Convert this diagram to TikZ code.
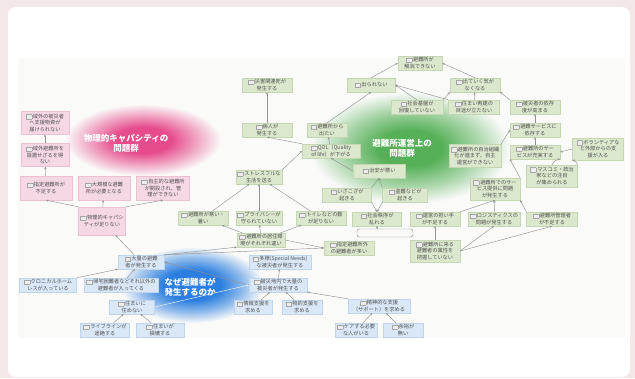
\documentclass[tikz,border=0pt]{standalone}
\usepackage{fontspec}
\newfontfamily\cjk{Noto Sans CJK JP}
\usetikzlibrary{arrows.meta,calc}
\definecolor{bgout}{HTML}{F3E8E8}
\definecolor{imgbg}{HTML}{FAFAF9}
\definecolor{pinkc}{HTML}{E64B8B}
\definecolor{greenc}{HTML}{56B058}
\definecolor{bluec}{HTML}{2C7FE0}
\definecolor{gfill}{HTML}{DCE8CE}
\definecolor{gdraw}{HTML}{C5D6B3}
\definecolor{bfill}{HTML}{D9E7F6}
\definecolor{bdraw}{HTML}{C0D4EC}
\definecolor{pfill}{HTML}{F6D8E4}
\definecolor{pdraw}{HTML}{ECC0D2}
\definecolor{txt}{HTML}{505050}
\definecolor{edc}{HTML}{939393}
\pgfdeclareradialshading{pinkglow}{\pgfpoint{0bp}{0bp}}{color(0bp)=(pinkc); color(9bp)=(pinkc); color(17bp)=(pinkc!50!imgbg); color(25bp)=(imgbg); color(50bp)=(imgbg)}
\pgfdeclareradialshading{greenglow}{\pgfpoint{0bp}{0bp}}{color(0bp)=(greenc); color(8bp)=(greenc); color(17bp)=(greenc!50!imgbg); color(25bp)=(imgbg); color(50bp)=(imgbg)}
\pgfdeclareradialshading{blueglow}{\pgfpoint{0bp}{0bp}}{color(0bp)=(bluec); color(10bp)=(bluec); color(18bp)=(bluec!50!imgbg); color(25bp)=(imgbg); color(50bp)=(imgbg)}
\newcommand\nbx{{\fboxsep=0pt\fboxrule=0.3pt\fcolorbox{gray!70}{gray!15}{\rule{0pt}{4pt}\rule{5.5pt}{0pt}}}\hspace{0.8pt}}
\begin{document}
\begin{tikzpicture}[x=1pt,y=-1pt,
  nd/.style={font=\cjk\fontsize{5.2}{6.2}\selectfont, text=txt, align=center, inner sep=1.5pt, minimum width=48pt, minimum height=14pt, line width=0.3pt},
  gn/.style={nd, fill=gfill, draw=gdraw},
  bn/.style={nd, fill=bfill, draw=bdraw},
  pn/.style={nd, fill=pfill, draw=pdraw},
  ed/.style={draw=edc, line width=0.45pt, -{Stealth[length=2.4pt,width=2.2pt]}},
  lbl/.style={font=\cjk\bfseries\fontsize{8.5}{10}\selectfont, text=white, align=center}]
\useasboundingbox (0,0) rectangle (635,378);
\fill[bgout] (0,0) rectangle (635,378);
\fill[white, rounded corners=8pt] (8,7) rectangle (630,377);
\fill[imgbg] (18,58) rectangle (625,338);
\shade[shading=pinkglow] (143,140) ellipse [x radius=78pt, y radius=36pt];
\shade[shading=greenglow] (410,148) ellipse [x radius=100pt, y radius=56pt];
\shade[shading=blueglow] (192,285) ellipse [x radius=72pt, y radius=38pt];
% pink
\node[pn, minimum height=23pt] (n44) at (45,123) {\nbx 域外の被災者\\へ支援物資が\\届けられない};
\node[pn, minimum height=23pt] (n45) at (45,155) {\nbx 域外避難所を\\設置せざるを得\\ない};
\node[pn, minimum width=52pt, minimum height=24pt] (n46) at (46,188) {\nbx 指定避難所が\\不足する};
\node[pn, minimum width=52pt, minimum height=24pt] (n47) at (104,188) {\nbx 大規模な避難\\所が必要となる};
\node[pn, minimum width=53pt, minimum height=24pt] (n48) at (163,188) {\nbx 自主的な避難所\\が開設され、管\\理ができない};
\node[pn, minimum width=47pt, minimum height=28pt] (n49) at (102,221) {\nbx 物理的キャパシ\\ティが足りない};
% blue
\node[bn, minimum width=46pt] (n31) at (141,262) {\nbx 大量の避難\\者が発生する};
\node[bn, minimum width=62pt] (n32) at (280,262) {\nbx 多様(Special Needs)\\な被災者が発生する};
\node[bn, minimum width=58pt] (n33) at (278,285) {\nbx 被災地内で大量の\\被災者が発生する};
\node[bn, minimum width=38pt] (n34) at (253,307) {\nbx 情報支援を\\求める};
\node[bn, minimum width=40pt] (n35) at (302,307) {\nbx 物的支援を\\求める};
\node[bn, minimum width=62pt] (n36) at (379,306) {\nbx 精神的な支援\\（サポート）を求める};
\node[bn, minimum width=42pt] (n37) at (356,330) {\nbx ケアする必要\\な人がいる};
\node[bn, minimum width=40pt] (n38) at (403,330) {\nbx 余裕が\\無い};
\node[bn, minimum width=57pt] (n39) at (48,285) {\nbx クロニカルホーム\\レスが入っている};
\node[bn, minimum width=74pt] (n40) at (121,285) {\nbx 帰宅困難者などそれ以外の\\避難者が入ってくる};
\node[bn, minimum width=45pt] (n41) at (132,307) {\nbx 住まいに\\住めない};
\node[bn, minimum width=49pt] (n42) at (105,330) {\nbx ライフラインが\\途絶する};
\node[bn, minimum width=48pt] (n43) at (160,330) {\nbx 住まいが\\損壊する};
% green
\node[gn, minimum width=44pt] (n1) at (420,63) {\nbx 避難所が\\解消できない};
\node[gn, minimum width=48pt] (n2) at (371,85) {\nbx 出られない};
\node[gn, minimum width=50pt] (n3) at (475,85) {\nbx 出ていく気が\\なくなる};
\node[gn, minimum width=52pt] (n4) at (417,107) {\nbx 社会基盤が\\回復していない};
\node[gn, minimum width=51pt] (n5) at (474,107) {\nbx 住まい再建の\\目途が立たない};
\node[gn, minimum width=50pt] (n6) at (535,107) {\nbx 被災者の依存\\度が高まる};
\node[gn, minimum width=50pt] (n7) at (535,130) {\nbx 避難サービスに\\依存する};
\node[gn, minimum width=50pt] (n8) at (535,152) {\nbx 避難所のサー\\ビスが充実する};
\node[gn, minimum width=51pt, minimum height=22pt] (n9) at (598,149) {\nbx ボランティアな\\ど外部からの支\\援が入る};
\node[gn, minimum width=50pt, minimum height=23pt] (n10) at (475,156) {\nbx 避難所の自治組織\\化が進まず、自主\\運営ができない};
\node[gn, minimum width=51pt, minimum height=22pt] (n11) at (552,176) {\nbx マスコミ・政治\\家などの注目\\が集められる};
\node[gn, minimum width=50pt, minimum height=22pt] (n12) at (495,189) {\nbx 避難所でのサー\\ビス提供に問題\\が発生する};
\node[gn, minimum width=52pt] (n13) at (494,219) {\nbx ロジスティクスの\\問題が発生する};
\node[gn, minimum width=51pt] (n14) at (552,219) {\nbx 避難所管理者\\が不足する};
\node[gn, minimum width=50pt] (n15) at (435,219) {\nbx 運営の担い手\\が不足する};
\node[gn, minimum width=50pt, minimum height=22pt] (n16) at (435,251) {\nbx 避難所に来る\\避難者の属性を\\把握していない};
\node[gn, minimum width=50pt] (n17) at (349,248) {\nbx 指定避難所外\\の避難者が多い};
\node[gn, minimum width=49pt] (n18) at (377,219) {\nbx 社会秩序が\\乱れる};
\node[gn, minimum width=49pt] (n19) at (347,195) {\nbx いざこざが\\起きる};
\node[gn, minimum width=45pt] (n20) at (405,195) {\nbx 盗難などが\\起きる};
\node[gn, minimum width=52pt] (n21) at (379,171) {\nbx 治安が悪い};
\node[gn, minimum width=58pt] (n22) at (331,151) {\nbx QOL（Quality\\of life）が下がる};
\node[gn, minimum width=40pt] (n23) at (327,130) {\nbx 避難所から\\出たい};
\node[gn, minimum width=50pt] (n24) at (267,130) {\nbx 病人が\\発生する};
\node[gn, minimum width=50pt] (n25) at (267,85) {\nbx 災害関連死が\\発生する};
\node[gn, minimum width=44pt] (n26) at (259,177) {\nbx ストレスフルな\\生活を送る};
\node[gn, minimum width=50pt] (n27) at (203,218) {\nbx 避難所が寒い・\\暑い};
\node[gn, minimum width=44pt] (n28) at (259,218) {\nbx プライバシーが\\守られていない};
\node[gn, minimum width=50pt] (n29) at (321,218) {\nbx トイレなどの数\\が足りない};
\node[gn, minimum width=48pt] (n30) at (261,240) {\nbx 避難所の居住環\\境がそれぞれ違い};
% edges pink
\draw[ed] (n45) -- (n44);
\draw[ed] (n46) -- (n45);
\draw[ed] (n49.north west) -- (n46.south);
\draw[ed] (n49) -- (n47);
\draw[ed] (n49.north east) -- (n48.south);
\draw[ed] (n31) -- (n49);
% edges blue
\draw[ed] (n39.north east) -- (n31.south west);
\draw[ed] (n40) -- (n31);
\draw[ed] (n33.west) -- (n31.east);
\draw[ed, draw=white!92!gray] (n41.east) -- (n33.west);
\draw[ed] (n33) -- (n32);
\draw[ed] (n34) -- (n33);
\draw[ed] (n35) -- (n33);
\draw[ed] (n36.north west) -- (n33.south east);
\draw[ed] (n37) -- (n36);
\draw[ed] (n38) -- (n36);
\draw[ed] (n42) -- (n41);
\draw[ed] (n43) -- (n41);
\draw[ed] (n31.north east) -- (n30.south west);
\draw[ed] (n31.north east) -- (n17.west);
\draw[ed] (n30.east) -- (n17.west);
% edges green
\draw[ed] (n30) -- (n27);
\draw[ed] (n30) -- (n28);
\draw[ed] (n30) -- (n29);
\draw[ed] (n27) -- (n26);
\draw[ed] (n28) -- (n26);
\draw[ed] (n29) -- (n26);
\draw[ed] (n26.north east) -- (n22.west);
\draw[ed] (n22) -- (n23);
\draw[ed] (n22.north west) -- (n24.south);
\draw[ed] (n24) -- (n25);
\draw[ed] (n23.north) -- (n2.south);
\draw[ed] (n2.north) -- (n1.west);
\draw[ed] (n3.north) -- (n1.east);
\draw[ed] (n4.north) -- (n2.east);
\draw[ed] (n5.north west) -- (n2.east);
\draw[ed] (n4.north east) -- (n3.south west);
\draw[ed] (n5) -- (n3);
\draw[ed] (n6.north west) -- (n3.south east);
\draw[ed] (n7) -- (n6);
\draw[ed] (n8) -- (n7);
\draw[ed] (n9.west) -- (n8.east);
\draw[ed] (n10.north east) -- (n7.west);
\draw[ed] (n11.north) to[bend left=30] (n8.south east);
\draw[ed] (n11.north east) to[bend right=30] (n9.south west);
\draw[ed] (n12.north east) -- (n8.south west);
\draw[ed] (n15.north east) -- (n12.south);
\draw[ed] (n13) -- (n12);
\draw[ed] (n14.north west) -- (n12.south east);
\draw[ed] (n16) -- (n15);
\draw[ed] (n16.east) -- (n13.south);
\draw[ed] (n16.east) -- (n14.south);
\draw[edc, line width=0.45pt, rounded corners=2.5pt] (357,229) rectangle (413,237);
\coordinate (br) at (377,229);
\draw[ed] (br) -- (n18.south);
\draw[ed] (n19.south east) -- (n18.north);
\draw[ed] (n20.south west) -- (n18.north);
\draw[ed] (n19.north east) -- (n21.south);
\draw[ed] (n20.north west) -- (n21.south);
\draw[ed] (n21.west) -- (n22.south);
% cloud labels
\node[lbl] (lp) at (126,143) {物理的キャパシティの\\問題群};
\node[lbl] (lg) at (402,148) {避難所運営上の\\問題群};
\node[lbl, align=left] (lb) at (190,287) {なぜ避難者が\\発生するのか};
\end{tikzpicture}
\end{document}
